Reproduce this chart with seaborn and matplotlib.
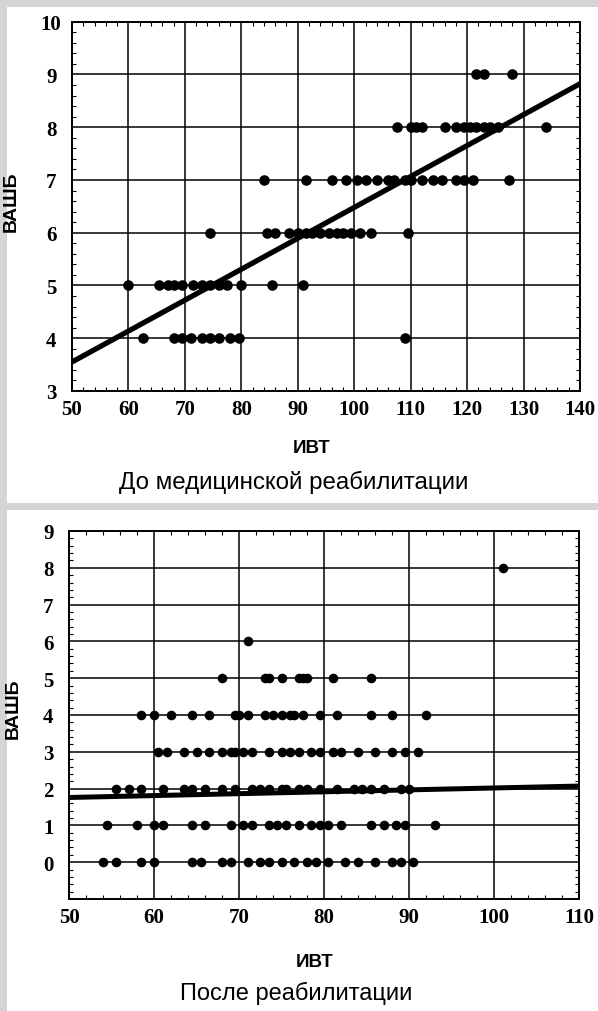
import numpy as np
import pandas as pd
import matplotlib.pyplot as plt
import seaborn as sns
from matplotlib.patches import Rectangle
from matplotlib.ticker import MultipleLocator

# До медицинской реабилитации: ИВТ по уровням ВАШБ
before_9 = [121.5, 123, 128]
before_8 = [107.5, 110, 111, 112, 116, 118, 119.5, 120.5, 121.5, 123, 124, 125.5, 134]
before_7 = [84, 91.5, 96, 98.5, 100.5, 102, 104, 106, 107, 109, 110, 112, 114,
            115.5, 118, 119.5, 121, 127.5]
before_6 = [74.5, 84.5, 86, 88.5, 90, 91.5, 92.5, 94, 95.5, 97, 98, 99.5, 101, 103, 109.5]
before_5 = [60, 65.5, 67, 68, 69.5, 71.5, 73, 74.5, 76, 77.5, 80, 85.5, 91]
before_4 = [62.5, 68, 69.5, 71, 73, 74.5, 76, 78, 79.5, 109]

# После реабилитации
after_8 = [101]
after_6 = [71]
after_5 = [68, 73, 73.5, 75, 77, 77.5, 78, 81, 85.5]
after_4 = [58.5, 60, 62, 64.5, 66.5, 69.5, 70, 71, 73, 74, 75, 76, 76.5, 77.5,
           79.5, 81.5, 85.5, 88, 92]
after_3 = [60.5, 61.5, 63.5, 65, 66.5, 68, 69, 69.5, 70.5, 71.5, 73.5, 75, 76, 77,
           78.5, 79.5, 81, 82, 84, 86, 88, 89.5, 91]
after_2 = [55.5, 57, 58.5, 61, 63.5, 64.5, 66, 68, 69.5, 71.5, 72.5, 73.5, 75, 75.5,
           77, 78, 79.5, 81.5, 83.5, 84.5, 85.5, 87, 89, 90]
after_1 = [54.5, 58, 60, 61, 64.5, 66, 69, 70.5, 71.5, 73.5, 74.5, 75.5, 77, 78.5,
           79.5, 80.5, 82, 85.5, 87, 88.5, 89.5, 93]
after_0 = [54, 55.5, 58.5, 60, 64.5, 65.5, 68, 69, 71, 72.5, 73.5, 75, 76.5, 78, 79,
           80.5, 82.5, 84, 86, 88, 89, 90.5]

# линии регрессии (свободный член, наклон)
fit_before = (0.62, 0.0586)
fit_after = (1.50, 0.00517)

x_label = "ИВТ"
y_label = "ВАШБ"
title_before = "До медицинской реабилитации"
title_after = "После реабилитации"


def to_frame(groups):
    rows = []
    for level, xs in groups:
        for v in xs:
            rows.append((v, level))
    return pd.DataFrame(rows, columns=["ИВТ", "ВАШБ"])


df_before = to_frame([(9, before_9), (8, before_8), (7, before_7),
                      (6, before_6), (5, before_5), (4, before_4)])
df_after = to_frame([(8, after_8), (6, after_6), (5, after_5), (4, after_4),
                     (3, after_3), (2, after_2), (1, after_1), (0, after_0)])

sns.set_style("white")
plt.rcParams['font.family'] = ['Liberation Sans', 'DejaVu Sans']
plt.rcParams['text.color'] = 'black'
plt.rcParams['axes.labelcolor'] = 'black'
plt.rcParams['xtick.color'] = 'black'
plt.rcParams['ytick.color'] = 'black'

fig = plt.figure(figsize=(5.98, 10.12), dpi=100, facecolor="#d5d5d5")
W, H = 598, 1012
# белые подложки панелей
fig.patches.append(Rectangle((7 / W, 1 - 504 / H), 1, 496 / H, transform=fig.transFigure,
                             facecolor="white", edgecolor="none", zorder=-5))
fig.patches.append(Rectangle((7 / W, 0), 1, 1 - 511 / H, transform=fig.transFigure,
                             facecolor="white", edgecolor="none", zorder=-5))

ax1 = fig.add_axes([72 / W, 1 - 392 / H, (580 - 72) / W, (392 - 22.7) / H])
ax2 = fig.add_axes([69 / W, 1 - 900 / H, (579 - 69) / W, (900 - 532) / H])
for ax in (ax1, ax2):
    ax.set_zorder(2)
    ax.set_facecolor("white")

tick_font = dict(family="Liberation Serif", weight="bold", size=15)


def style_axes(ax, xlim, ylim, xticks, yticks, xminor, yminor):
    ax.set_xlim(*xlim)
    ax.set_ylim(*ylim)
    ax.set_xticks(xticks)
    ax.set_yticks(yticks)
    ax.xaxis.set_minor_locator(MultipleLocator(xminor))
    ax.yaxis.set_minor_locator(MultipleLocator(yminor))
    ax.grid(True, which="major", color="black", linewidth=1.1)
    ax.set_axisbelow(True)
    for s in ax.spines.values():
        s.set_color("black")
        s.set_linewidth(1.4)
    ax.tick_params(which="major", direction="in", length=0, top=True, right=True)
    ax.tick_params(which="minor", direction="in", length=3, width=0.8,
                   top=True, right=True, bottom=True, left=True)
    ax.tick_params(axis="y", which="major", pad=15)
    ax.tick_params(axis="x", which="major", pad=6)
    for lab in ax.get_xticklabels() + ax.get_yticklabels():
        lab.set_fontfamily(tick_font["family"])
        lab.set_fontweight(tick_font["weight"])
        lab.set_fontsize(tick_font["size"])
    for lab in ax.get_yticklabels():
        lab.set_horizontalalignment("center")
    ax.set_xlabel(x_label, fontsize=13.5, fontweight="bold")
    ax.set_ylabel(y_label, fontsize=14, fontweight="bold")


# верхний график
sns.scatterplot(data=df_before, x="ИВТ", y="ВАШБ", ax=ax1, color="black",
                s=58, edgecolor="black", linewidth=0, zorder=3)
xl1 = np.array([50, 140])
sns.lineplot(x=xl1, y=fit_before[0] + fit_before[1] * xl1, ax=ax1,
             color="black", linewidth=3.8, zorder=4)
style_axes(ax1, (50, 140), (3, 10), range(50, 141, 10), range(3, 11), 2, 0.2)

# нижний график
sns.scatterplot(data=df_after, x="ИВТ", y="ВАШБ", ax=ax2, color="black",
                s=48, edgecolor="black", linewidth=0, zorder=3)
xl2 = np.array([50, 110])
sns.lineplot(x=xl2, y=fit_after[0] + fit_after[1] * xl2, ax=ax2,
             color="black", linewidth=3.6, zorder=4)
style_axes(ax2, (50, 110), (-1, 9), range(50, 111, 10), range(0, 10), 2, 0.2)

ax1.yaxis.set_label_coords((20 - 72) / 508, (392 - 202) / 369)
ax2.yaxis.set_label_coords((22 - 69) / 510, (900 - 709) / 368)
ax1.xaxis.set_label_coords((312 - 72) / 508, -(448 - 392) / 369)
ax2.xaxis.set_label_coords((315 - 69) / 510, -(963 - 900) / 368)
ax1.xaxis.label.set_va("center")
ax2.xaxis.label.set_va("center")

fig.text(294 / W, 1 - 482 / H, title_before, ha="center", va="center", fontsize=17.4)
fig.text(296 / W, 1 - 993 / H, title_after, ha="center", va="center", fontsize=17)

plt.savefig("out.png", dpi=100, facecolor=fig.get_facecolor())
